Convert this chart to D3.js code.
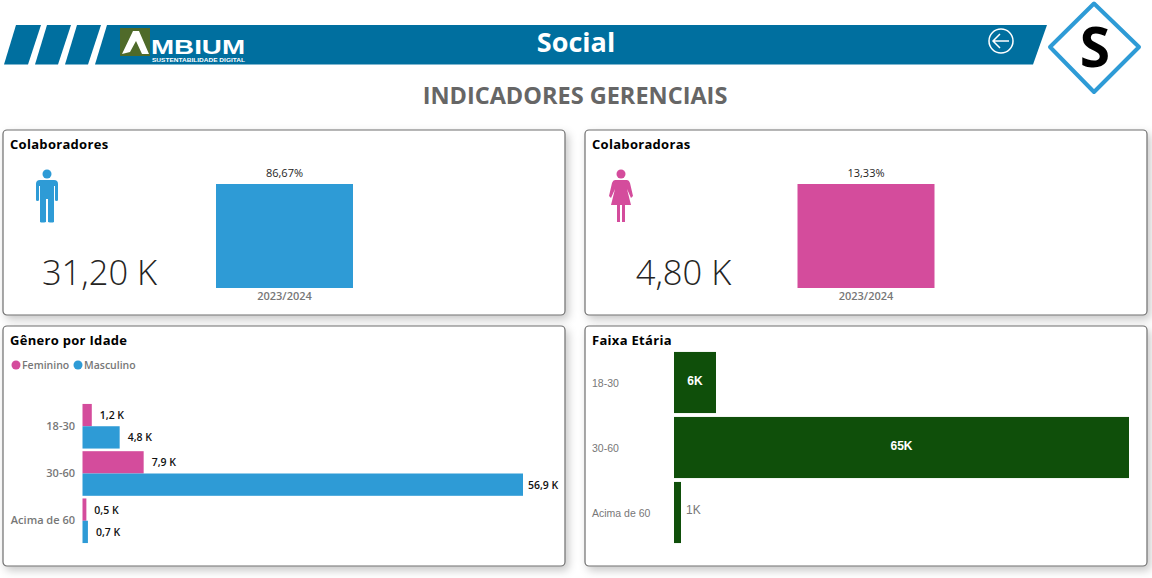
<!DOCTYPE html>
<html>
<head>
<meta charset="utf-8">
<script src="https://cdn.jsdelivr.net/npm/d3@7"></script>
<style>
  html, body { margin: 0; padding: 0; background: #fff; overflow: hidden; }
  svg { display: block; }
  text { font-family: "Open Sans", "Noto Sans", sans-serif; }
</style>
</head>
<body>
<svg width="1152" height="578"></svg>
<script>
//Data
const kpiTitles = ["Colaboradores", "Colaboradoras"];
const kpiValues = ["31,20 K", "4,80 K"];
const kpiPercents = [86.67, 13.33];
const kpiPeriods = ["2023/2024"];

const ageGroups = ["18-30", "30-60", "Acima de 60"];
const genderNames = ["Feminino", "Masculino"];
const feminino = [1.2, 7.9, 0.5];
const masculino = [4.8, 56.9, 0.7];
const faixaValues = [6, 65, 1];

//Colors
const blue = "#2e9bd6", pink = "#d44c9c", green = "#0f4f0a", headerBlue = "#006f9f";

const svg = d3.select("svg");
const fmtComma = (v, digits) => v.toFixed(digits).replace(".", ",");

//Panel shadow
const shadow = svg.append("defs").append("filter").attr("id", "shadow")
  .attr("x", "-5%").attr("y", "-10%").attr("width", "110%").attr("height", "125%");
shadow.append("feDropShadow").attr("dx", 3).attr("dy", 4).attr("stdDeviation", 4)
  .attr("flood-color", "#000").attr("flood-opacity", 0.22);

//Header
const header = svg.append("g");
[
  [[16, 25], [41, 25], [28, 64.5], [4, 64.5]],
  [[47, 25], [71, 25], [58, 64.5], [35, 64.5]],
  [[77, 25], [101, 25], [88, 64.5], [65, 64.5]],
  [[107, 25], [1047, 25], [1033, 64.5], [95, 64.5]]
].forEach(p => header.append("polygon").attr("points", p.join(" ")).attr("fill", headerBlue));

//Logo
header.append("rect").attr("x", 120).attr("y", 28).attr("width", 30).attr("height", 28).attr("fill", "#4f6a2a");
header.append("path").attr("d", "M122 54 L133 31 L139 31 L149 54 L142 54 L136 41 L130 52 Z").attr("fill", "#fff");
header.append("text").attr("x", 151).attr("y", 54).attr("fill", "#fff")
  .attr("font-size", 21).attr("font-weight", 600).attr("textLength", 94).attr("lengthAdjust", "spacingAndGlyphs")
  .style("font-family", "'Liberation Sans'").text("MBIUM");
header.append("text").attr("x", 152).attr("y", 61.5).attr("fill", "#fff")
  .attr("font-size", 6).attr("font-weight", 700).attr("textLength", 93).attr("lengthAdjust", "spacingAndGlyphs")
  .style("font-family", "'Liberation Sans'").text("SUSTENTABILIDADE DIGITAL");

header.append("text").attr("x", 576).attr("y", 52).attr("text-anchor", "middle")
  .attr("fill", "#fff").attr("font-size", 27).attr("font-weight", 700).text("Social");

//Back arrow
const back = header.append("g").attr("fill", "none").attr("stroke", "#fff").attr("stroke-width", 1.5);
back.append("circle").attr("cx", 1001).attr("cy", 41).attr("r", 12);
back.append("path").attr("d", "M1009 41 H993 M1000 34 L993 41 L1000 48");

//Diamond badge
header.append("polygon").attr("points", "1094,3.5 1139,47 1094,92 1050,47")
  .attr("fill", "#fff").attr("stroke", blue).attr("stroke-width", 4).attr("stroke-linejoin", "round");
header.append("text").attr("x", 1095).attr("y", 67).attr("text-anchor", "middle")
  .attr("font-size", 55).attr("font-weight", 700).attr("fill", "#000").text("S");

svg.append("text").attr("x", 575).attr("y", 104).attr("text-anchor", "middle")
  .attr("fill", "#666").attr("font-size", 23.5).attr("font-weight", 700).text("INDICADORES GERENCIAIS");

//Panels
function panel(x, y, w, h, title) {
  const g = svg.append("g");
  g.append("rect").attr("x", x).attr("y", y).attr("width", w).attr("height", h).attr("rx", 4)
    .attr("fill", "#fff").attr("stroke", "#6e6e6e").attr("stroke-width", 1.2).attr("filter", "url(#shadow)");
  g.append("text").attr("x", x + 7).attr("y", y + 19).attr("font-size", 13).attr("font-weight", 700)
    .attr("letter-spacing", 0.3).attr("fill", "#000").text(title);
  return g;
}

function cleanAxis(axisG, color, size, family) {
  axisG.select(".domain").remove();
  axisG.selectAll("line").remove();
  axisG.selectAll("text").attr("fill", color).attr("font-size", size).attr("font-weight", 600);
  if (family) axisG.selectAll("text").style("font-family", family).attr("font-weight", 400);
}

//Person icons
function manIcon(g, cx) {
  g.append("circle").attr("cx", cx).attr("cy", 174).attr("r", 4.5).attr("fill", blue);
  g.append("path").attr("fill", blue)
    .attr("d", `M${cx - 7} 180 Q${cx - 11} 180 ${cx - 11} 184 V200 Q${cx - 11} 201 ${cx - 9.5} 201 Q${cx - 8} 201 ${cx - 8} 200 V186 H${cx - 7} V222
      Q${cx - 5} 223 ${cx - 1} 222 V199 H${cx + 1} V222 Q${cx + 5} 223 ${cx + 7} 222 V186 H${cx + 8} V200 Q${cx + 8} 201 ${cx + 9.5} 201 Q${cx + 11} 201 ${cx + 11} 200 V184 Q${cx + 11} 180 ${cx + 7} 180 Z`);
}
function womanIcon(g, cx) {
  g.append("circle").attr("cx", cx).attr("cy", 174).attr("r", 4.5).attr("fill", pink);
  g.append("path").attr("fill", pink)
    .attr("d", `M${cx - 6} 180 H${cx + 6} Q${cx + 8} 180 ${cx + 9} 183 L${cx + 12} 196 L${cx + 10} 198 L${cx + 6} 189 L${cx + 10} 205
      H${cx + 4} V222 H${cx + 1} V205 H${cx - 1} V222 H${cx - 4} V205 H${cx - 10} L${cx - 6} 189 L${cx - 10} 198 L${cx - 12} 196 L${cx - 9} 183 Q${cx - 8} 180 ${cx - 6} 180 Z`);
}

//KPI panels
[3, 585].forEach((px, i) => {
  const g = panel(px, 130, 562, 185, kpiTitles[i]);
  if (i === 0) manIcon(g, 47); else womanIcon(g, 621);
  g.append("text").attr("x", i === 0 ? 99.5 : 683.5).attr("y", 285).attr("text-anchor", "middle")
    .attr("font-size", 34.5).attr("font-weight", 300).attr("fill", "#252423").text(kpiValues[i]);

  const barLeft = i === 0 ? 216 : 797.5;
  const x = d3.scaleBand().domain(kpiPeriods).range([barLeft, barLeft + 137]);
  const y = d3.scaleLinear().domain([0, kpiPercents[i]]).range([288, 184]);
  g.selectAll("rect.bar").data([kpiPercents[i]]).enter().append("rect").attr("class", "bar")
    .attr("x", x(kpiPeriods[0])).attr("width", x.bandwidth())
    .attr("y", d => y(d)).attr("height", d => y(0) - y(d))
    .attr("fill", i === 0 ? blue : pink);
  g.append("text").attr("x", x(kpiPeriods[0]) + x.bandwidth() / 2).attr("y", y(kpiPercents[i]) - 7)
    .attr("text-anchor", "middle").attr("font-size", 11).attr("fill", "#252423")
    .text(fmtComma(kpiPercents[i], 2) + "%");
  const ax = g.append("g").attr("transform", "translate(0,288)").call(d3.axisBottom(x).tickSize(0).tickPadding(4));
  ax.select(".domain").remove();
  ax.selectAll("text").attr("fill", "#777").attr("font-size", 11).attr("font-weight", 600);
});

//Genero por Idade
const gGen = panel(3, 326, 562, 240, "Gênero por Idade");
const legendX = [11.5, 73.5];
genderNames.forEach((name, i) => {
  gGen.append("circle").attr("cx", legendX[i] + 4.5).attr("cy", 365).attr("r", 4.5).attr("fill", i === 0 ? pink : blue);
  gGen.append("text").attr("x", legendX[i] + 10.5).attr("y", 369).attr("font-size", 10.5).attr("font-weight", 600)
    .attr("fill", "#777").text(name);
});

const xGen = d3.scaleLinear().domain([0, d3.max(masculino)]).range([82.5, 523]);
const yGen = d3.scaleBand().domain(ageGroups).range([403, 544]).paddingInner(0.056).paddingOuter(0.02);
const ySub = d3.scaleBand().domain(genderNames).range([0, yGen.bandwidth()]);

const axGen = gGen.append("g").attr("transform", "translate(75,0)").call(d3.axisLeft(yGen).tickSize(0).tickPadding(0));
cleanAxis(axGen, "#777", 11);

[feminino, masculino].forEach((series, s) => {
  const name = genderNames[s];
  gGen.append("g").selectAll("rect").data(series).enter().append("rect")
    .attr("x", xGen(0))
    .attr("y", (d, i) => yGen(ageGroups[i]) + ySub(name))
    .attr("width", d => xGen(d) - xGen(0))
    .attr("height", ySub.bandwidth())
    .attr("fill", s === 0 ? pink : blue);
  gGen.append("g").selectAll("text").data(series).enter().append("text")
    .attr("x", d => Math.min(xGen(d) + 8, 528))
    .attr("y", (d, i) => yGen(ageGroups[i]) + ySub(name) + ySub.bandwidth() / 2 + 4)
    .attr("font-size", 10.5).attr("font-weight", 600).attr("fill", "#111")
    .text(d => fmtComma(d, 1) + " K");
});

//Faixa Etaria
const gFaixa = panel(585, 326, 562, 240, "Faixa Etária");
const xFaixa = d3.scaleLinear().domain([0, d3.max(faixaValues)]).range([674, 1129]);
const yFaixa = d3.scaleBand().domain(ageGroups).range([350, 545]).paddingInner(0.06).paddingOuter(0.03);

const axFaixa = gFaixa.append("g").attr("transform", "translate(592,1)").call(d3.axisLeft(yFaixa).tickSize(0).tickPadding(0));
cleanAxis(axFaixa, "#777", 10.5, "'Liberation Sans'");
axFaixa.selectAll("text").attr("text-anchor", "start");

gFaixa.append("g").selectAll("rect").data(faixaValues).enter().append("rect")
  .attr("x", xFaixa(0))
  .attr("y", (d, i) => yFaixa(ageGroups[i]))
  .attr("width", d => xFaixa(d) - xFaixa(0))
  .attr("height", yFaixa.bandwidth())
  .attr("fill", green);
gFaixa.append("g").selectAll("text").data(faixaValues).enter().append("text")
  .attr("x", d => d > 3 ? (xFaixa(d) + xFaixa(0)) / 2 : xFaixa(d) + 5)
  .attr("y", (d, i) => yFaixa(ageGroups[i]) + yFaixa.bandwidth() / 2 + (d > 3 ? 2 : 1))
  .attr("text-anchor", d => d > 3 ? "middle" : "start")
  .attr("font-size", 12)
  .attr("font-weight", d => d > 3 ? 700 : 400)
  .attr("fill", d => d > 3 ? "#fff" : "#777")
  .style("font-family", "'Liberation Sans'")
  .text(d => d + "K");
</script>
</body>
</html>
